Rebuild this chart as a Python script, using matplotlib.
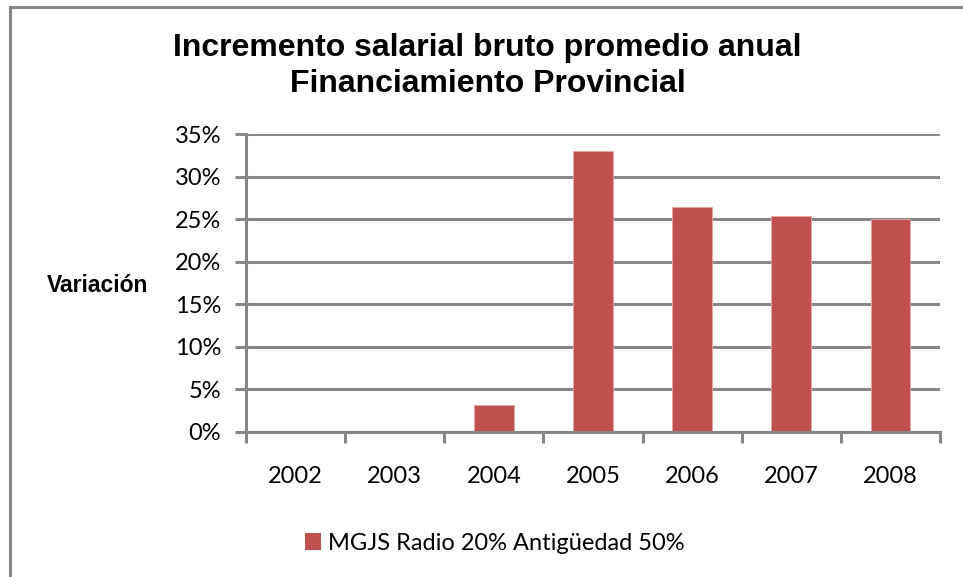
import matplotlib
matplotlib.use("Agg")
import matplotlib.pyplot as plt
from matplotlib.patches import Rectangle, Patch

years = ["2002", "2003", "2004", "2005", "2006", "2007", "2008"]
values = [0.0, 0.0, 3.1, 33.0, 26.4, 25.4, 25.0]
yticks = [0, 5, 10, 15, 20, 25, 30, 35]
ytick_labels = ["0%", "5%", "10%", "15%", "20%", "25%", "30%", "35%"]
series_name = "MGJS Radio 20% Antigüedad 50%"
title_lines = ["Incremento salarial bruto promedio anual", "Financiamiento Provincial"]
ylabel = "Variación"

W, H = 963, 577
fig = plt.figure(figsize=(W / 100, H / 100), dpi=100)
gray = "#878787"
bar_color = "#C0504D"
tick_font = ["Lato", "DejaVu Sans"]
fs = 17

# outer chart border (extends beyond image bottom/right)
fig.patches.append(Rectangle((10 / W, -0.1), 1.2, (H - 7) / H + 0.1,
                             transform=fig.transFigure, fill=False,
                             edgecolor=gray, linewidth=2.2))

ax = fig.add_axes([246 / W, 1 - 431.7 / H, (940 - 246) / W, (431.7 - 134.3) / H])
x = list(range(len(years)))
ax.bar(x, values, width=0.4, color=bar_color, edgecolor="#E8A8A6", linewidth=0.6, zorder=3)
ax.set_xlim(-0.5, len(years) - 0.5)
ax.set_ylim(0, 35)
ax.set_yticks(yticks)
ax.set_yticklabels(ytick_labels, fontfamily=tick_font, fontsize=fs)
ax.set_xticks([i - 0.5 for i in range(len(years) + 1)], minor=False)
ax.set_xticklabels([""] * (len(years) + 1))
ax.set_xticks(x, minor=True)
ax.set_xticklabels(years, minor=True, fontfamily=tick_font, fontsize=fs)
ax.tick_params(axis="x", which="minor", length=0, pad=25)
ax.tick_params(axis="x", which="major", length=8, width=2.2, color=gray, direction="out")
ax.tick_params(axis="y", length=8, width=2.2, color=gray, direction="out", pad=10)
ax.yaxis.grid(True, color=gray, linewidth=2.2, zorder=0)
for s in ["top", "right"]:
    ax.spines[s].set_visible(False)
for s in ["left", "bottom"]:
    ax.spines[s].set_color(gray)
    ax.spines[s].set_linewidth(2.2)
    ax.spines[s].set_zorder(4)

fig.text(487 / W, 1 - 48 / H, title_lines[0], ha="center", va="center",
         fontfamily="Liberation Sans", fontweight="bold", fontsize=23)
fig.text(488 / W, 1 - 84 / H, title_lines[1], ha="center", va="center",
         fontfamily="Liberation Sans", fontweight="bold", fontsize=23)
fig.text(98 / W, 1 - 285 / H, ylabel, ha="center", va="center",
         fontfamily=["Liberation Sans Narrow", "Liberation Sans"], fontweight="bold", fontsize=16.5)

leg = fig.legend(handles=[Patch(facecolor=bar_color, label=series_name)],
                 loc="center", bbox_to_anchor=(495 / W, 1 - 543 / H), frameon=False,
                 prop={"family": tick_font, "size": fs}, handlelength=0.7, handleheight=0.7,
                 handletextpad=0.3)

fig.savefig("out.png", dpi=100)
